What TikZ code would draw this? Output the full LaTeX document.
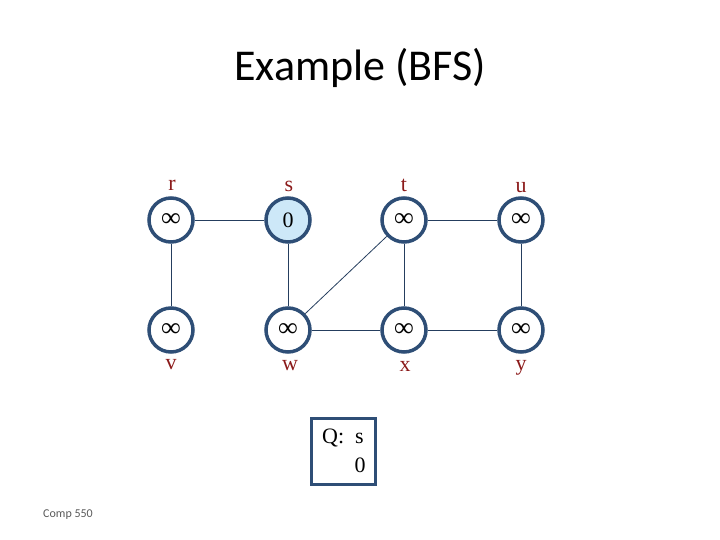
\documentclass[tikz,border=0pt]{standalone}
\usepackage{fontspec}
\setmainfont{Liberation Serif}
\newfontfamily\titlefont{Carlito}
\definecolor{nodeblue}{HTML}{2E4E76}
\definecolor{fillblue}{HTML}{CDE8F8}
\definecolor{labred}{HTML}{8B1A1A}
\newcommand{\infsym}{{\fontsize{27}{28}\selectfont\bfseries ∞}}
\tikzset{
  vert/.style={circle, draw=nodeblue, line width=3.5pt, fill=white, minimum size=44pt, inner sep=0pt, font=\fontsize{22}{24}\selectfont},
  src/.style={vert, fill=fillblue},
  lab/.style={text=labred, font=\fontsize{22}{24}\selectfont, inner sep=0pt},
  edge/.style={draw=nodeblue!80!black, line width=0.8pt},
}
\begin{document}
\begin{tikzpicture}[x=1pt,y=-1pt]
\useasboundingbox (0,0) rectangle (720,540);
\node[font=\titlefont\fontsize{44}{48}\selectfont] (title) at (360,68) {Example (BFS)};
\node[vert] (r) at (171,220) {\infsym};
\node[src]  (s) at (288,220) {0};
\node[vert] (t) at (404,220) {\infsym};
\node[vert] (u) at (521,220) {\infsym};
\node[vert] (v) at (171,330) {\infsym};
\node[vert] (w) at (288,330) {\infsym};
\node[vert] (x) at (404,330) {\infsym};
\node[vert] (y) at (521,330) {\infsym};
\node[lab] (lr) at (172,185) {r};
\node[lab] (ls) at (289,186) {s};
\node[lab] (lt) at (404,185) {t};
\node[lab] (lu) at (521,188) {u};
\node[lab] (lv) at (171,365) {v};
\node[lab] (lw) at (290,366) {w};
\node[lab] (lx) at (405,366) {x};
\node[lab] (ly) at (521,368) {y};
\draw[edge] (r) -- (s);
\draw[edge] (r) -- (v);
\draw[edge] (s) -- (w);
\draw[edge] (w) -- (t);
\draw[edge] (t) -- (u);
\draw[edge] (t) -- (x);
\draw[edge] (u) -- (y);
\draw[edge] (w) -- (x);
\draw[edge] (x) -- (y);
\node[draw=nodeblue, line width=3pt, minimum width=64pt, minimum height=66pt] (q) at (343.5,451.5) {};
\node[font=\fontsize{22}{24}\selectfont, inner sep=0pt] (qlab) at (343,438) {Q:\ \ s};
\node[font=\fontsize{22}{24}\selectfont, inner sep=0pt] (qval) at (360,465) {0};
\node[font=\titlefont\fontsize{12}{14}\selectfont, text=black!65] (foot) at (68,515) {Comp 550};
\end{tikzpicture}
\end{document}
